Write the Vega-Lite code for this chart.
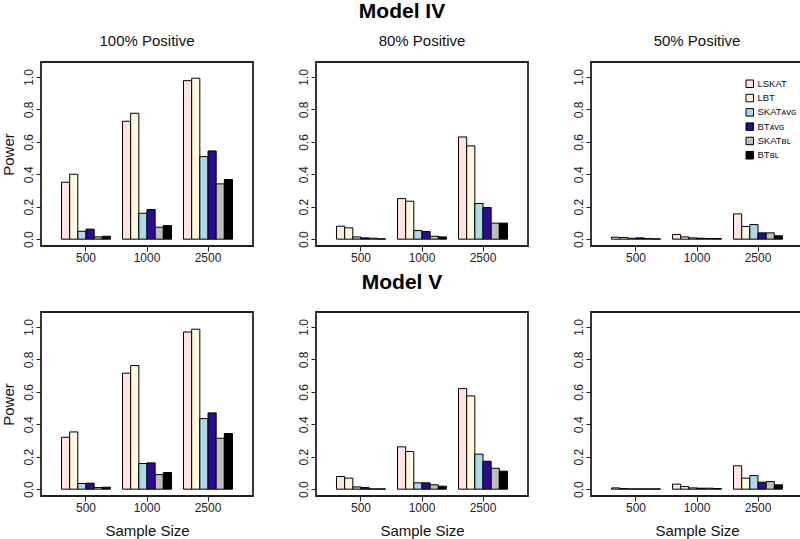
{
  "$schema": "https://vega.github.io/schema/vega-lite/v6.json",
  "padding": {"left": 0, "top": 1, "right": 0, "bottom": 0},
  "background": "white",
  "config": {
    "font": "Liberation Sans",
    "view": {"stroke": "#222222", "strokeWidth": 1.8},
    "axis": {"domain": false, "grid": false, "tickSize": 5, "tickColor": "#222222", "tickWidth": 1, "labelFontSize": 12, "labelColor": "#222222", "labelPadding": 1, "titleFontSize": 15, "titleFontWeight": "normal", "titleColor": "#111111"},
    "axisY": {"labelAngle": -90, "labelAlign": "center", "labelBaseline": "bottom", "titlePadding": 6},
    "axisX": {"labelAngle": 0, "titlePadding": 10},
    "title": {"fontWeight": "normal", "fontSize": 15, "color": "#111111"},
    "concat": {"spacing": 42}
  },
  "data": {"values": [
    {"model":"IV","pos":"100%","n":"500","method":"LSKAT","power":0.351},
    {"model":"IV","pos":"100%","n":"500","method":"LBT","power":0.40},
    {"model":"IV","pos":"100%","n":"500","method":"SKAT_AVG","power":0.049},
    {"model":"IV","pos":"100%","n":"500","method":"BT_AVG","power":0.062},
    {"model":"IV","pos":"100%","n":"500","method":"SKAT_BL","power":0.014},
    {"model":"IV","pos":"100%","n":"500","method":"BT_BL","power":0.018},
    {"model":"IV","pos":"100%","n":"1000","method":"LSKAT","power":0.727},
    {"model":"IV","pos":"100%","n":"1000","method":"LBT","power":0.776},
    {"model":"IV","pos":"100%","n":"1000","method":"SKAT_AVG","power":0.16},
    {"model":"IV","pos":"100%","n":"1000","method":"BT_AVG","power":0.183},
    {"model":"IV","pos":"100%","n":"1000","method":"SKAT_BL","power":0.074},
    {"model":"IV","pos":"100%","n":"1000","method":"BT_BL","power":0.084},
    {"model":"IV","pos":"100%","n":"2500","method":"LSKAT","power":0.977},
    {"model":"IV","pos":"100%","n":"2500","method":"LBT","power":0.992},
    {"model":"IV","pos":"100%","n":"2500","method":"SKAT_AVG","power":0.509},
    {"model":"IV","pos":"100%","n":"2500","method":"BT_AVG","power":0.544},
    {"model":"IV","pos":"100%","n":"2500","method":"SKAT_BL","power":0.341},
    {"model":"IV","pos":"100%","n":"2500","method":"BT_BL","power":0.368},
    {"model":"IV","pos":"80%","n":"500","method":"LSKAT","power":0.08},
    {"model":"IV","pos":"80%","n":"500","method":"LBT","power":0.07},
    {"model":"IV","pos":"80%","n":"500","method":"SKAT_AVG","power":0.014},
    {"model":"IV","pos":"80%","n":"500","method":"BT_AVG","power":0.008},
    {"model":"IV","pos":"80%","n":"500","method":"SKAT_BL","power":0.006},
    {"model":"IV","pos":"80%","n":"500","method":"BT_BL","power":0.002},
    {"model":"IV","pos":"80%","n":"1000","method":"LSKAT","power":0.25},
    {"model":"IV","pos":"80%","n":"1000","method":"LBT","power":0.234},
    {"model":"IV","pos":"80%","n":"1000","method":"SKAT_AVG","power":0.053},
    {"model":"IV","pos":"80%","n":"1000","method":"BT_AVG","power":0.047},
    {"model":"IV","pos":"80%","n":"1000","method":"SKAT_BL","power":0.018},
    {"model":"IV","pos":"80%","n":"1000","method":"BT_BL","power":0.014},
    {"model":"IV","pos":"80%","n":"2500","method":"LSKAT","power":0.63},
    {"model":"IV","pos":"80%","n":"2500","method":"LBT","power":0.575},
    {"model":"IV","pos":"80%","n":"2500","method":"SKAT_AVG","power":0.22},
    {"model":"IV","pos":"80%","n":"2500","method":"BT_AVG","power":0.195},
    {"model":"IV","pos":"80%","n":"2500","method":"SKAT_BL","power":0.099},
    {"model":"IV","pos":"80%","n":"2500","method":"BT_BL","power":0.099},
    {"model":"IV","pos":"50%","n":"500","method":"LSKAT","power":0.012},
    {"model":"IV","pos":"50%","n":"500","method":"LBT","power":0.01},
    {"model":"IV","pos":"50%","n":"500","method":"SKAT_AVG","power":0.006},
    {"model":"IV","pos":"50%","n":"500","method":"BT_AVG","power":0.008},
    {"model":"IV","pos":"50%","n":"500","method":"SKAT_BL","power":0.004},
    {"model":"IV","pos":"50%","n":"500","method":"BT_BL","power":0.002},
    {"model":"IV","pos":"50%","n":"1000","method":"LSKAT","power":0.029},
    {"model":"IV","pos":"50%","n":"1000","method":"LBT","power":0.014},
    {"model":"IV","pos":"50%","n":"1000","method":"SKAT_AVG","power":0.008},
    {"model":"IV","pos":"50%","n":"1000","method":"BT_AVG","power":0.006},
    {"model":"IV","pos":"50%","n":"1000","method":"SKAT_BL","power":0.004},
    {"model":"IV","pos":"50%","n":"1000","method":"BT_BL","power":0.004},
    {"model":"IV","pos":"50%","n":"2500","method":"LSKAT","power":0.156},
    {"model":"IV","pos":"50%","n":"2500","method":"LBT","power":0.078},
    {"model":"IV","pos":"50%","n":"2500","method":"SKAT_AVG","power":0.09},
    {"model":"IV","pos":"50%","n":"2500","method":"BT_AVG","power":0.039},
    {"model":"IV","pos":"50%","n":"2500","method":"SKAT_BL","power":0.039},
    {"model":"IV","pos":"50%","n":"2500","method":"BT_BL","power":0.021},
    {"model":"V","pos":"100%","n":"500","method":"LSKAT","power":0.32},
    {"model":"V","pos":"100%","n":"500","method":"LBT","power":0.353},
    {"model":"V","pos":"100%","n":"500","method":"SKAT_AVG","power":0.035},
    {"model":"V","pos":"100%","n":"500","method":"BT_AVG","power":0.037},
    {"model":"V","pos":"100%","n":"500","method":"SKAT_BL","power":0.01},
    {"model":"V","pos":"100%","n":"500","method":"BT_BL","power":0.012},
    {"model":"V","pos":"100%","n":"1000","method":"LSKAT","power":0.715},
    {"model":"V","pos":"100%","n":"1000","method":"LBT","power":0.762},
    {"model":"V","pos":"100%","n":"1000","method":"SKAT_AVG","power":0.158},
    {"model":"V","pos":"100%","n":"1000","method":"BT_AVG","power":0.162},
    {"model":"V","pos":"100%","n":"1000","method":"SKAT_BL","power":0.09},
    {"model":"V","pos":"100%","n":"1000","method":"BT_BL","power":0.103},
    {"model":"V","pos":"100%","n":"2500","method":"LSKAT","power":0.969},
    {"model":"V","pos":"100%","n":"2500","method":"LBT","power":0.986},
    {"model":"V","pos":"100%","n":"2500","method":"SKAT_AVG","power":0.435},
    {"model":"V","pos":"100%","n":"2500","method":"BT_AVG","power":0.47},
    {"model":"V","pos":"100%","n":"2500","method":"SKAT_BL","power":0.314},
    {"model":"V","pos":"100%","n":"2500","method":"BT_BL","power":0.343},
    {"model":"V","pos":"80%","n":"500","method":"LSKAT","power":0.078},
    {"model":"V","pos":"80%","n":"500","method":"LBT","power":0.068},
    {"model":"V","pos":"80%","n":"500","method":"SKAT_AVG","power":0.014},
    {"model":"V","pos":"80%","n":"500","method":"BT_AVG","power":0.01},
    {"model":"V","pos":"80%","n":"500","method":"SKAT_BL","power":0.002},
    {"model":"V","pos":"80%","n":"500","method":"BT_BL","power":0.002},
    {"model":"V","pos":"80%","n":"1000","method":"LSKAT","power":0.261},
    {"model":"V","pos":"80%","n":"1000","method":"LBT","power":0.232},
    {"model":"V","pos":"80%","n":"1000","method":"SKAT_AVG","power":0.039},
    {"model":"V","pos":"80%","n":"1000","method":"BT_AVG","power":0.039},
    {"model":"V","pos":"80%","n":"1000","method":"SKAT_BL","power":0.027},
    {"model":"V","pos":"80%","n":"1000","method":"BT_BL","power":0.018},
    {"model":"V","pos":"80%","n":"2500","method":"LSKAT","power":0.62},
    {"model":"V","pos":"80%","n":"2500","method":"LBT","power":0.575},
    {"model":"V","pos":"80%","n":"2500","method":"SKAT_AVG","power":0.216},
    {"model":"V","pos":"80%","n":"2500","method":"BT_AVG","power":0.172},
    {"model":"V","pos":"80%","n":"2500","method":"SKAT_BL","power":0.129},
    {"model":"V","pos":"80%","n":"2500","method":"BT_BL","power":0.111},
    {"model":"V","pos":"50%","n":"500","method":"LSKAT","power":0.008},
    {"model":"V","pos":"50%","n":"500","method":"LBT","power":0.004},
    {"model":"V","pos":"50%","n":"500","method":"SKAT_AVG","power":0.002},
    {"model":"V","pos":"50%","n":"500","method":"BT_AVG","power":0.002},
    {"model":"V","pos":"50%","n":"500","method":"SKAT_BL","power":0.002},
    {"model":"V","pos":"50%","n":"500","method":"BT_BL","power":0.002},
    {"model":"V","pos":"50%","n":"1000","method":"LSKAT","power":0.031},
    {"model":"V","pos":"50%","n":"1000","method":"LBT","power":0.016},
    {"model":"V","pos":"50%","n":"1000","method":"SKAT_AVG","power":0.008},
    {"model":"V","pos":"50%","n":"1000","method":"BT_AVG","power":0.006},
    {"model":"V","pos":"50%","n":"1000","method":"SKAT_BL","power":0.006},
    {"model":"V","pos":"50%","n":"1000","method":"BT_BL","power":0.004},
    {"model":"V","pos":"50%","n":"2500","method":"LSKAT","power":0.144},
    {"model":"V","pos":"50%","n":"2500","method":"LBT","power":0.068},
    {"model":"V","pos":"50%","n":"2500","method":"SKAT_AVG","power":0.084},
    {"model":"V","pos":"50%","n":"2500","method":"BT_AVG","power":0.043},
    {"model":"V","pos":"50%","n":"2500","method":"SKAT_BL","power":0.047},
    {"model":"V","pos":"50%","n":"2500","method":"BT_BL","power":0.027}
  ]},
  "resolve": {"scale": {"fill": "independent"}, "legend": {"fill": "independent"}},
  "spacing": 8,
  "vconcat": [
    {
      "title": {"text": "Model IV", "fontSize": 21, "fontWeight": "bold", "anchor": "middle", "offset": 11, "color": "#000000"},
      "resolve": {"scale": {"fill": "independent"}, "legend": {"fill": "independent"}},
      "hconcat": [
        {
          "width": 212, "height": 184,
          "title": {"text": "100% Positive", "offset": 13},
          "transform": [{"filter": "datum.model === 'IV' && datum.pos === '100%'"}],
          "mark": {"type": "bar", "stroke": "black", "strokeWidth": 1},
          "encoding": {
            "x": {"field": "n", "type": "ordinal", "sort": ["500", "1000", "2500"], "scale": {"paddingInner": 0.197, "paddingOuter": 0.336}, "axis": {"title": null}},
            "xOffset": {"field": "method", "type": "nominal", "sort": ["LSKAT", "LBT", "SKAT_AVG", "BT_AVG", "SKAT_BL", "BT_BL"], "scale": {"paddingInner": 0, "paddingOuter": 0}},
            "y": {"field": "power", "type": "quantitative", "scale": {"domain": [-0.042, 1.092], "nice": false, "zero": false}, "axis": {"title": "Power", "values": [0, 0.2, 0.4, 0.6, 0.8, 1.0], "format": ".1f"}},
            "fill": {"field": "method", "type": "nominal", "scale": {"domain": ["LSKAT", "LBT", "SKAT_AVG", "BT_AVG", "SKAT_BL", "BT_BL"], "range": ["#FFE4E1", "#FFF8DC", "#ADD8E6", "#2B0A96", "#BEBEBE", "#000000"]}, "legend": null}
          }
        },
        {
          "width": 212, "height": 184,
          "title": {"text": "80% Positive", "offset": 13},
          "transform": [{"filter": "datum.model === 'IV' && datum.pos === '80%'"}],
          "mark": {"type": "bar", "stroke": "black", "strokeWidth": 1},
          "encoding": {
            "x": {"field": "n", "type": "ordinal", "sort": ["500", "1000", "2500"], "scale": {"paddingInner": 0.197, "paddingOuter": 0.336}, "axis": {"title": null}},
            "xOffset": {"field": "method", "type": "nominal", "sort": ["LSKAT", "LBT", "SKAT_AVG", "BT_AVG", "SKAT_BL", "BT_BL"], "scale": {"paddingInner": 0, "paddingOuter": 0}},
            "y": {"field": "power", "type": "quantitative", "scale": {"domain": [-0.042, 1.092], "nice": false, "zero": false}, "axis": {"title": null, "values": [0, 0.2, 0.4, 0.6, 0.8, 1.0], "format": ".1f"}},
            "fill": {"field": "method", "type": "nominal", "scale": {"domain": ["LSKAT", "LBT", "SKAT_AVG", "BT_AVG", "SKAT_BL", "BT_BL"], "range": ["#FFE4E1", "#FFF8DC", "#ADD8E6", "#2B0A96", "#BEBEBE", "#000000"]}, "legend": null}
          }
        },
        {
          "width": 212, "height": 184,
          "title": {"text": "50% Positive", "offset": 13},
          "transform": [{"filter": "datum.model === 'IV' && datum.pos === '50%'"}],
          "mark": {"type": "bar", "stroke": "black", "strokeWidth": 1},
          "encoding": {
            "x": {"field": "n", "type": "ordinal", "sort": ["500", "1000", "2500"], "scale": {"paddingInner": 0.197, "paddingOuter": 0.336}, "axis": {"title": null}},
            "xOffset": {"field": "method", "type": "nominal", "sort": ["LSKAT", "LBT", "SKAT_AVG", "BT_AVG", "SKAT_BL", "BT_BL"], "scale": {"paddingInner": 0, "paddingOuter": 0}},
            "y": {"field": "power", "type": "quantitative", "scale": {"domain": [-0.042, 1.092], "nice": false, "zero": false}, "axis": {"title": null, "values": [0, 0.2, 0.4, 0.6, 0.8, 1.0], "format": ".1f"}},
            "fill": {"field": "method", "type": "nominal", "scale": {"domain": ["LSKAT", "LBT", "SKAT_AVG", "BT_AVG", "SKAT_BL", "BT_BL"], "range": ["#FFE4E1", "#FFF8DC", "#ADD8E6", "#2B0A96", "#BEBEBE", "#000000"]},
              "legend": {"orient": "none", "legendX": 154, "legendY": 17, "title": null, "symbolType": "square", "symbolSize": 56, "symbolStrokeColor": "black", "symbolStrokeWidth": 1, "labelFontSize": 9.5, "labelColor": "#111111", "labelOffset": 3, "rowPadding": 2.3,
                "labelExpr": "{'SKAT_AVG': 'SKAT\u1D00\u1D20\u0262', 'BT_AVG': 'BT\u1D00\u1D20\u0262', 'SKAT_BL': 'SKAT\u0299\u029F', 'BT_BL': 'BT\u0299\u029F'}[datum.label] || datum.label"}}
          }
        }
      ]
    },
    {
      "title": {"text": "Model V", "fontSize": 21, "fontWeight": "bold", "anchor": "middle", "offset": 18, "color": "#000000"},
      "resolve": {"scale": {"fill": "independent"}, "legend": {"fill": "independent"}},
      "hconcat": [
        {
          "width": 212, "height": 184,
          "transform": [{"filter": "datum.model === 'V' && datum.pos === '100%'"}],
          "mark": {"type": "bar", "stroke": "black", "strokeWidth": 1},
          "encoding": {
            "x": {"field": "n", "type": "ordinal", "sort": ["500", "1000", "2500"], "scale": {"paddingInner": 0.197, "paddingOuter": 0.336}, "axis": {"title": "Sample Size"}},
            "xOffset": {"field": "method", "type": "nominal", "sort": ["LSKAT", "LBT", "SKAT_AVG", "BT_AVG", "SKAT_BL", "BT_BL"], "scale": {"paddingInner": 0, "paddingOuter": 0}},
            "y": {"field": "power", "type": "quantitative", "scale": {"domain": [-0.042, 1.092], "nice": false, "zero": false}, "axis": {"title": "Power", "values": [0, 0.2, 0.4, 0.6, 0.8, 1.0], "format": ".1f"}},
            "fill": {"field": "method", "type": "nominal", "scale": {"domain": ["LSKAT", "LBT", "SKAT_AVG", "BT_AVG", "SKAT_BL", "BT_BL"], "range": ["#FFE4E1", "#FFF8DC", "#ADD8E6", "#2B0A96", "#BEBEBE", "#000000"]}, "legend": null}
          }
        },
        {
          "width": 212, "height": 184,
          "transform": [{"filter": "datum.model === 'V' && datum.pos === '80%'"}],
          "mark": {"type": "bar", "stroke": "black", "strokeWidth": 1},
          "encoding": {
            "x": {"field": "n", "type": "ordinal", "sort": ["500", "1000", "2500"], "scale": {"paddingInner": 0.197, "paddingOuter": 0.336}, "axis": {"title": "Sample Size"}},
            "xOffset": {"field": "method", "type": "nominal", "sort": ["LSKAT", "LBT", "SKAT_AVG", "BT_AVG", "SKAT_BL", "BT_BL"], "scale": {"paddingInner": 0, "paddingOuter": 0}},
            "y": {"field": "power", "type": "quantitative", "scale": {"domain": [-0.042, 1.092], "nice": false, "zero": false}, "axis": {"title": null, "values": [0, 0.2, 0.4, 0.6, 0.8, 1.0], "format": ".1f"}},
            "fill": {"field": "method", "type": "nominal", "scale": {"domain": ["LSKAT", "LBT", "SKAT_AVG", "BT_AVG", "SKAT_BL", "BT_BL"], "range": ["#FFE4E1", "#FFF8DC", "#ADD8E6", "#2B0A96", "#BEBEBE", "#000000"]}, "legend": null}
          }
        },
        {
          "width": 212, "height": 184,
          "transform": [{"filter": "datum.model === 'V' && datum.pos === '50%'"}],
          "mark": {"type": "bar", "stroke": "black", "strokeWidth": 1},
          "encoding": {
            "x": {"field": "n", "type": "ordinal", "sort": ["500", "1000", "2500"], "scale": {"paddingInner": 0.197, "paddingOuter": 0.336}, "axis": {"title": "Sample Size"}},
            "xOffset": {"field": "method", "type": "nominal", "sort": ["LSKAT", "LBT", "SKAT_AVG", "BT_AVG", "SKAT_BL", "BT_BL"], "scale": {"paddingInner": 0, "paddingOuter": 0}},
            "y": {"field": "power", "type": "quantitative", "scale": {"domain": [-0.042, 1.092], "nice": false, "zero": false}, "axis": {"title": null, "values": [0, 0.2, 0.4, 0.6, 0.8, 1.0], "format": ".1f"}},
            "fill": {"field": "method", "type": "nominal", "scale": {"domain": ["LSKAT", "LBT", "SKAT_AVG", "BT_AVG", "SKAT_BL", "BT_BL"], "range": ["#FFE4E1", "#FFF8DC", "#ADD8E6", "#2B0A96", "#BEBEBE", "#000000"]}, "legend": null}
          }
        }
      ]
    }
  ]
}
